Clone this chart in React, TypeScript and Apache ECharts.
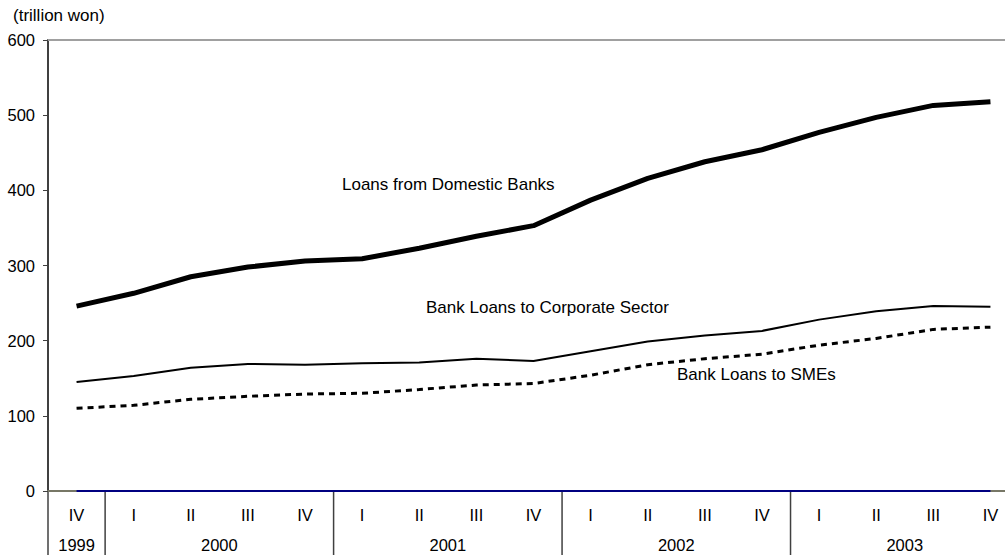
import React, { useEffect, useRef } from "react";
import * as echarts from "echarts";

const quarters = ["IV", "I", "II", "III", "IV", "I", "II", "III", "IV", "I", "II", "III", "IV", "I", "II", "III", "IV"];
const yearLabels = ["1999", "2000", "2001", "2002", "2003"];
const yearStart = [0, 1, 5, 9, 13];
const yearEnd = [0, 4, 8, 12, 16];

const domesticBanks = [246, 263, 285, 298, 306, 309, 323, 339, 353, 387, 416, 438, 454, 477, 497, 513, 518];
const corporateSector = [145, 153, 164, 169, 168, 170, 171, 176, 173, 186, 199, 207, 213, 228, 239, 246, 245];
const smes = [110, 114, 122, 126, 129, 130, 135, 141, 143, 154, 168, 176, 182, 194, 203, 215, 218];
const zeroLine = [0, 0, 0, 0, 0, 0, 0, 0, 0, 0, 0, 0, 0, 0, 0, 0, 0];

const yTicks = { min: 0, max: 600, interval: 100 };

const FONT = "'Liberation Sans', Arial, sans-serif";
const FS = 16.5;
const FS_NOTE = 17;

export default function App() {
  const ref = useRef<HTMLDivElement>(null);

  useEffect(() => {
    if (!ref.current) return;
    const chart = echarts.init(ref.current, null, { renderer: "svg" });
    const option: any = {
      animation: false,
      backgroundColor: "#ffffff",
      grid: { left: 48, right: 21, top: 40, bottom: 64, containLabel: false },
      xAxis: {
        type: "category",
        data: quarters,
        boundaryGap: true,
        axisLine: { show: true, lineStyle: { color: "#777766", width: 2 } },
        axisTick: { show: false },
        axisLabel: {
          interval: 0,
          margin: 15,
          color: "#000",
          fontFamily: FONT,
          fontSize: FS,
        },
        splitLine: { show: false },
      },
      yAxis: {
        type: "value",
        min: yTicks.min,
        max: yTicks.max,
        interval: yTicks.interval,
        axisLine: { show: true, lineStyle: { color: "#404040", width: 2 } },
        axisTick: { show: true, inside: false, length: 5, lineStyle: { color: "#404040", width: 1 } },
        axisLabel: { margin: 13, color: "#000", fontFamily: FONT, fontSize: FS },
        splitLine: { show: false },
      },
      series: [
        {
          name: "zero",
          type: "line",
          data: zeroLine,
          symbol: "none",
          lineStyle: { color: "#000080", width: 2 },
          z: 3,
          markLine: {
            silent: true,
            symbol: "none",
            label: { show: false },
            lineStyle: { color: "#a0a0a0", width: 2, type: "solid" },
            data: [{ yAxis: 600 }],
          },
        },
        {
          name: "Loans from Domestic Banks",
          type: "line",
          data: domesticBanks,
          symbol: "none",
          lineStyle: { color: "#000", width: 5 },
        },
        {
          name: "Bank Loans to Corporate Sector",
          type: "line",
          data: corporateSector,
          symbol: "none",
          lineStyle: { color: "#000", width: 2 },
        },
        {
          name: "Bank Loans to SMEs",
          type: "line",
          data: smes,
          symbol: "none",
          lineStyle: { color: "#000", width: 3, type: [6, 5] },
        },
      ],
    };
    chart.setOption(option);

    const px = (i: number) => chart.convertToPixel({ xAxisIndex: 0 }, i) as number;
    const y0 = chart.convertToPixel({ yAxisIndex: 0 }, 0) as number;
    const step = px(1) - px(0);
    const bottom = 555;
    const graphics: any[] = [];
    const lineAt = (x: number, color: string) => ({
      type: "line",
      shape: { x1: x, y1: y0, x2: x, y2: bottom },
      style: { stroke: color, lineWidth: 1.5 },
      silent: true,
    });
    graphics.push(lineAt(px(0) - step / 2, "#404040"));
    for (let k = 1; k < yearStart.length; k++) {
      const s = yearStart[k];
      graphics.push(lineAt((px(s - 1) + px(s)) / 2, "#404040"));
    }
    for (let k = 0; k < yearLabels.length; k++) {
      const cx = (px(yearStart[k]) + px(yearEnd[k])) / 2;
      graphics.push({
        type: "text",
        x: cx,
        y: 545,
        style: {
          text: yearLabels[k],
          fill: "#000",
          font: `${FS}px ${FONT}`,
          textAlign: "center",
          textVerticalAlign: "middle",
        },
        silent: true,
      });
    }
    const notes = [
      { text: "(trillion won)", x: 13, y: 15 },
      { text: "Loans from Domestic Banks", x: 342, y: 184 },
      { text: "Bank Loans to Corporate Sector", x: 426, y: 307 },
      { text: "Bank Loans to SMEs", x: 677, y: 374 },
    ];
    notes.forEach((n) =>
      graphics.push({
        type: "text",
        x: n.x,
        y: n.y,
        style: {
          text: n.text,
          fill: "#000",
          font: `${FS_NOTE}px ${FONT}`,
          textAlign: "left",
          textVerticalAlign: "middle",
        },
        silent: true,
      })
    );
    chart.setOption({ graphic: graphics });

    return () => chart.dispose();
  }, []);

  return (
    <div style={{ position: "fixed", left: 0, top: 0, width: 1005, height: 555, overflow: "hidden", background: "#fff" }}>
      <div ref={ref} style={{ width: 1040, height: 555 }} />
    </div>
  );
}
